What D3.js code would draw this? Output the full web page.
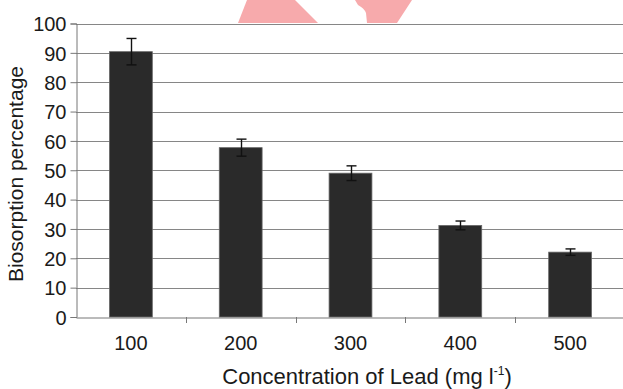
<!DOCTYPE html>
<html>
<head>
<meta charset="utf-8">
<script src="https://cdn.jsdelivr.net/npm/d3@7"></script>
<style>
  body { margin: 0; background: #fff; }
  text { font-family: "Liberation Sans", Arial, sans-serif; fill: #1a1a1a; }
</style>
</head>
<body>
<div id="chart"></div>
<script>
// lead concentration (mg/l) vs biosorption %
let concentrations = ["100", "200", "300", "400", "500"]
let biosorption = [90.4, 57.7, 49.0, 31.2, 22.1]
let errorBars = [4.5, 2.9, 2.5, 1.5, 1.1]
let yTicks = [0, 10, 20, 30, 40, 50, 60, 70, 80, 90, 100]

let width = 623,
    height = 389

let svg = d3.select("#chart").append("svg")
    .attr("width", width)
    .attr("height", height)

// pink watermark bits at the top (from the source image)
svg.append("path")
    .attr("d", "M247,0 L295,0 L318,23 L238,23 Z")
    .attr("fill", "#f7aaac")
svg.append("path")
    .attr("d", "M355,0 L412,0 L397,23 L367,23 L366,13 Q364,8 358,5 Z")
    .attr("fill", "#f7aaac")

let x = d3.scaleBand()
    .domain(concentrations)
    .range([76, 625])
    .padding(0)

let y = d3.scaleLinear()
    .domain([0, 100])
    .range([317, 23.5])

// gridlines
svg.append("g")
    .selectAll("line")
    .data(yTicks.slice(1))
  .enter().append("line")
    .attr("x1", 76)
    .attr("x2", width)
    .attr("y1", d => Math.round(y(d)) + 0.5)
    .attr("y2", d => Math.round(y(d)) + 0.5)
    .attr("stroke", "#868686")
    .attr("stroke-width", 1.2)

// y axis
let yAxis = svg.append("g")
    .attr("transform", "translate(76.5,0)")
    .call(d3.axisLeft(y).tickValues(yTicks).tickSize(6).tickPadding(4))
yAxis.select(".domain").attr("stroke", "#777")
yAxis.selectAll(".tick line").attr("stroke", "#777")
yAxis.selectAll(".tick text")
    .attr("font-size", 20)
    .attr("dy", "0.36em")

// x axis
let xAxis = svg.append("g")
    .attr("transform", "translate(0," + (y(0) + 0.5) + ")")
    .call(d3.axisBottom(x).tickSize(0).tickPadding(18))
xAxis.select(".domain").attr("stroke", "#777")
xAxis.selectAll(".tick text")
    .attr("font-size", 20)

// tick marks between the categories
svg.append("g")
    .selectAll("line")
    .data(concentrations.slice(1))
  .enter().append("line")
    .attr("x1", d => Math.round(x(d)) + 0.5)
    .attr("x2", d => Math.round(x(d)) + 0.5)
    .attr("y1", y(0))
    .attr("y2", y(0) + 6)
    .attr("stroke", "#777")

let barW = x.bandwidth() * 0.39

svg.append("g")
    .selectAll("rect")
    .data(biosorption)
  .enter().append("rect")
    .attr("x", (d, i) => x(concentrations[i]) + x.bandwidth() / 2 - barW / 2)
    .attr("y", d => y(d))
    .attr("width", barW)
    .attr("height", d => y(0) - y(d))
    .attr("fill", "#2a2a2a")
    .attr("stroke", "#666")
    .attr("stroke-width", 0.8)

// error bars
let err = svg.append("g")
    .selectAll("g")
    .data(biosorption)
  .enter().append("g")
    .attr("transform", (d, i) => "translate(" + (Math.round(x(concentrations[i]) + x.bandwidth() / 2) + 0.5) + ",0)")

err.append("line")
    .attr("y1", (d, i) => y(d + errorBars[i]))
    .attr("y2", (d, i) => y(d - errorBars[i]))
    .attr("stroke", "#111")
    .attr("stroke-width", 1.4)
err.append("line")
    .attr("x1", -5).attr("x2", 5)
    .attr("y1", (d, i) => y(d + errorBars[i]))
    .attr("y2", (d, i) => y(d + errorBars[i]))
    .attr("stroke", "#111")
    .attr("stroke-width", 1.4)
err.append("line")
    .attr("x1", -5).attr("x2", 5)
    .attr("y1", (d, i) => y(d - errorBars[i]))
    .attr("y2", (d, i) => y(d - errorBars[i]))
    .attr("stroke", "#111")
    .attr("stroke-width", 1.4)

// axis titles
let xt = svg.append("text")
    .attr("x", 367)
    .attr("y", 384)
    .attr("text-anchor", "middle")
    .attr("font-size", 22)
xt.append("tspan").text("Concentration of Lead (mg l")
xt.append("tspan").attr("font-size", 12).attr("dy", -9).text("-1")
xt.append("tspan").attr("dy", 9).text(")")

svg.append("text")
    .attr("transform", "translate(23,174) rotate(-90)")
    .attr("text-anchor", "middle")
    .attr("font-size", 21)
    .text("Biosorption percentage")
</script>
</body>
</html>
